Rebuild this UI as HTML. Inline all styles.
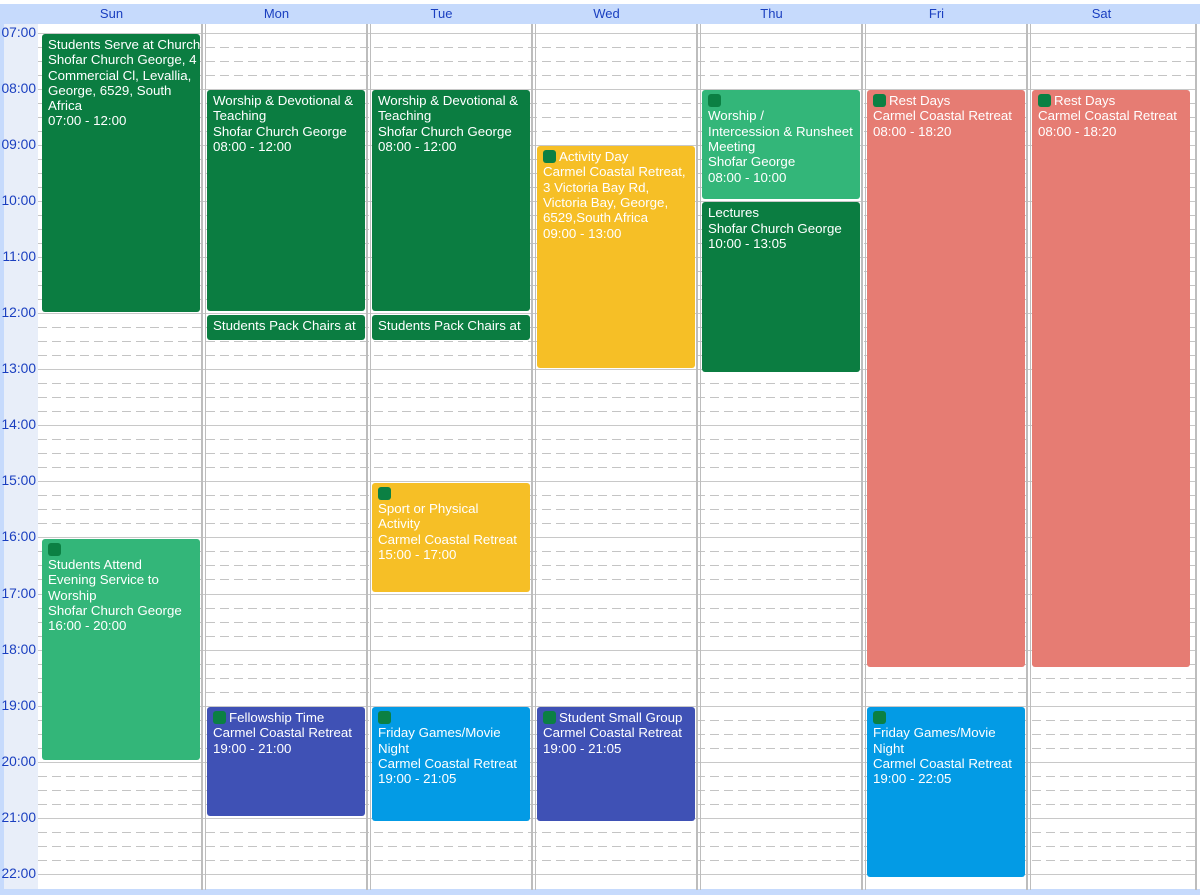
<!DOCTYPE html>
<html><head><meta charset="utf-8"><style>
html,body{margin:0;padding:0}
body{width:1200px;height:895px;position:relative;overflow:hidden;background:#fff;font-family:"Liberation Sans",Arial,sans-serif}
.hdr{position:absolute;top:4px;height:20px;left:0;width:1200px;background:#c6dafc}
.hd{position:absolute;top:4px;height:20px;line-height:20px;text-align:center;color:#1a3fc0;font-size:13px;width:165px}
.tc{position:absolute;left:0;top:24px;width:38px;height:866px;background:#e8eef9;border-left:4px solid #c6dafc;box-sizing:border-box}
.tl{position:absolute;left:0;width:36px;text-align:right;color:#1a3fc0;font-size:13.8px}
.hl{position:absolute;height:1px;background:#c8c8c8}
.dl{position:absolute;height:1px;background:repeating-linear-gradient(90deg,#c4c4c4 0 9px,transparent 9px 14px)}
.vl{position:absolute;top:24px;height:866px;background:#bdbdbd}
.ev{position:absolute;width:158px;border-radius:3px;color:#fff;font-size:13.3px;line-height:15.3px;padding:3px 5px 0 6px;box-sizing:border-box;overflow:hidden;white-space:nowrap}
.ic{display:inline-block;width:13px;height:13px;background:#0b8043;border-radius:3px;vertical-align:-2px;margin-right:3px}
.bot{position:absolute;left:0;top:889px;width:1200px;height:6px;background:#c6dafc}
</style></head><body>
<div class="hdr"></div>
<div class="tc"></div>
<div class="bot"></div>
<div id="g"></div>
<script>
var g=document.getElementById('g'),h='';
var X=[38,203,368,533,698,863,1028],D=['Sun','Mon','Tue','Wed','Thu','Fri','Sat'];
function y(t){return 32.5+(t-7)*56.1;}
for(var i=0;i<7;i++)h+='<div class="hd" style="left:'+(X[i]-9)+'px">'+D[i]+'</div>';
for(var t=7;t<=22;t++){
 var yy=Math.round(y(t));
 h+='<div class="tl" style="top:'+(yy-8)+'px">'+(t<10?'0':'')+t+':00</div>';
 h+='<div class="hl" style="left:38px;width:1157px;top:'+yy+'px"></div>';
 if(t<22)for(var q=1;q<4;q++)h+='<div class="dl" style="left:38px;width:1157px;top:'+Math.round(y(t+q/4))+'px"></div>';
}
for(var i=1;i<7;i++){h+='<div class="vl" style="left:'+(X[i]-2)+'px;width:2px"></div><div class="vl" style="left:'+(X[i]+2)+'px;width:1px"></div>';}
h+='<div class="vl" style="left:1195px;width:2px"></div>';
var DG='#0b7d41',LG='#33b679',YE='#f6bf26',SA='#e67c73',IN='#3f51b5',BL='#039be5';
var I='<span class="ic"></span>';
var E=[
[0,7,12,DG,'Students Serve at Church<br>Shofar Church George, 4<br>Commercial Cl, Levallia,<br>George, 6529, South<br>Africa<br>07:00 - 12:00'],
[0,16,20,LG,I+'<br>Students Attend<br>Evening Service to<br>Worship<br>Shofar Church George<br>16:00 - 20:00'],
[1,8,12,DG,'Worship &amp; Devotional &amp;<br>Teaching<br>Shofar Church George<br>08:00 - 12:00'],
[1,12,12.5,DG,'Students Pack Chairs at'],
[1,19,21,IN,I+'Fellowship Time<br>Carmel Coastal Retreat<br>19:00 - 21:00'],
[2,8,12,DG,'Worship &amp; Devotional &amp;<br>Teaching<br>Shofar Church George<br>08:00 - 12:00'],
[2,12,12.5,DG,'Students Pack Chairs at'],
[2,15,17,YE,I+'<br>Sport or Physical<br>Activity<br>Carmel Coastal Retreat<br>15:00 - 17:00'],
[2,19,21.083,BL,I+'<br>Friday Games/Movie<br>Night<br>Carmel Coastal Retreat<br>19:00 - 21:05'],
[3,9,13,YE,I+'Activity Day<br>Carmel Coastal Retreat,<br>3 Victoria Bay Rd,<br>Victoria Bay, George,<br>6529,South Africa<br>09:00 - 13:00'],
[3,19,21.083,IN,I+'Student Small Group<br>Carmel Coastal Retreat<br>19:00 - 21:05'],
[4,8,10,LG,I+'<br>Worship /<br>Intercession &amp; Runsheet<br>Meeting<br>Shofar George<br>08:00 - 10:00'],
[4,10,13.083,DG,'Lectures<br>Shofar Church George<br>10:00 - 13:05'],
[5,8,18.333,SA,I+'Rest Days<br>Carmel Coastal Retreat<br>08:00 - 18:20'],
[5,19,22.083,BL,I+'<br>Friday Games/Movie<br>Night<br>Carmel Coastal Retreat<br>19:00 - 22:05'],
[6,8,18.333,SA,I+'Rest Days<br>Carmel Coastal Retreat<br>08:00 - 18:20']
];
E.forEach(function(e){var t=y(e[1])+1.5,b=y(e[2])-1.5;
h+='<div class="ev" style="left:'+(X[e[0]]+4)+'px;top:'+t+'px;height:'+(b-t)+'px;background:'+e[3]+'">'+e[4]+'</div>';});
g.innerHTML=h;
</script>
</body></html>
